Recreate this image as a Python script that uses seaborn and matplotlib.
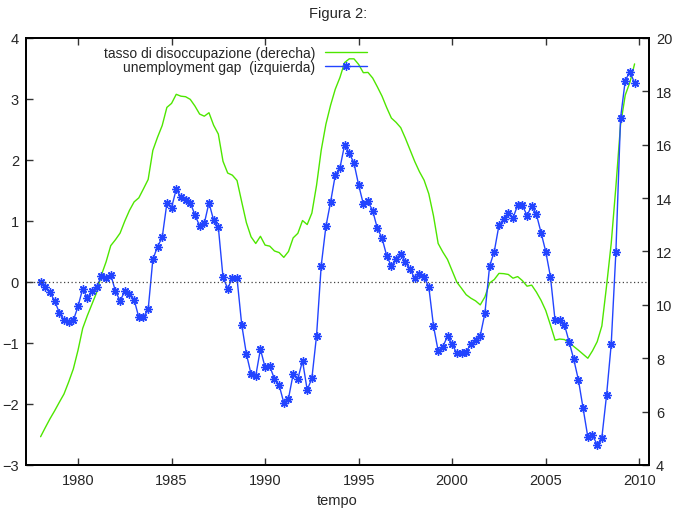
import numpy as np
import matplotlib
matplotlib.use("Agg")
import matplotlib.pyplot as plt
import seaborn as sns
import pandas as pd

sns.set_style("ticks")
plt.rcParams['font.family'] = ['Liberation Sans', 'DejaVu Sans']

# quarterly data, 1978Q1 - 2009Q4
start_year = 1978
# unemployment gap (left axis)
gap = [0.00, -0.08, -0.17, -0.31, -0.50, -0.63, -0.65, -0.63,
       -0.40, -0.11, -0.26, -0.15, -0.08, 0.10, 0.06, 0.12,
       -0.15, -0.31, -0.15, -0.20, -0.29, -0.58, -0.58, -0.45,
       0.37, 0.58, 0.73, 1.29, 1.22, 1.52, 1.39, 1.35,
       1.30, 1.10, 0.92, 0.96, 1.30, 1.01, 0.90, 0.08,
       -0.11, 0.07, 0.06, -0.70, -1.18, -1.51, -1.54, -1.10,
       -1.40, -1.38, -1.59, -1.69, -1.98, -1.91, -1.51, -1.59,
       -1.29, -1.77, -1.58, -0.88, 0.27, 0.91, 1.31, 1.75,
       1.87, 2.25, 2.11, 1.95, 1.59, 1.28, 1.32, 1.17,
       0.88, 0.72, 0.43, 0.26, 0.38, 0.46, 0.33, 0.21,
       0.06, 0.13, 0.08, -0.08, -0.72, -1.13, -1.06, -0.89,
       -1.02, -1.17, -1.17, -1.14, -1.02, -0.95, -0.88, -0.51,
       0.26, 0.50, 0.93, 1.03, 1.13, 1.05, 1.26, 1.26,
       1.09, 1.25, 1.11, 0.81, 0.50, 0.09, -0.63, -0.63,
       -0.70, -0.98, -1.27, -1.61, -2.07, -2.54, -2.51, -2.67,
       -2.55, -1.86, -1.02, 0.49, 2.69, 3.30, 3.45, 3.26]
# unemployment rate (right axis)
tasso = [5.06, 5.40, 5.73, 6.03, 6.35, 6.66, 7.11, 7.60,
         8.30, 9.12, 9.60, 10.03, 10.47, 11.12, 11.61, 12.22,
         12.44, 12.69, 13.14, 13.54, 13.86, 14.01, 14.35, 14.70,
         15.79, 16.28, 16.72, 17.40, 17.55, 17.89, 17.82, 17.80,
         17.70, 17.45, 17.15, 17.07, 17.20, 16.73, 16.40, 15.38,
         14.94, 14.86, 14.66, 13.86, 13.08, 12.55, 12.30, 12.57,
         12.24, 12.20, 12.02, 11.96, 11.78, 12.00, 12.51, 12.68,
         13.16, 13.01, 13.44, 14.48, 15.80, 16.77, 17.48, 18.08,
         18.52, 19.08, 19.22, 19.22, 19.01, 18.70, 18.71, 18.50,
         18.17, 17.82, 17.39, 17.00, 16.84, 16.64, 16.24, 15.81,
         15.37, 14.99, 14.67, 14.16, 13.34, 12.30, 11.98, 11.70,
         11.27, 10.85, 10.62, 10.38, 10.25, 10.15, 10.00, 10.30,
         10.82, 10.95, 11.18, 11.17, 11.14, 11.00, 11.06, 10.91,
         10.70, 10.74, 10.48, 10.17, 9.79, 9.25, 8.68, 8.72,
         8.70, 8.59, 8.44, 8.30, 8.15, 8.00, 8.28, 8.62,
         9.21, 10.70, 12.30, 14.43, 16.75, 17.86, 18.34, 19.03]
x_ticks = [1980, 1985, 1990, 1995, 2000, 2005, 2010]
y_ticks = [-3, -2, -1, 0, 1, 2, 3, 4]
y2_ticks = [4, 6, 8, 10, 12, 14, 16, 18, 20]

years = start_year + np.arange(len(gap)) / 4.0
df = pd.DataFrame({'tempo': years, 'gap': gap, 'tasso': tasso})

blue = '#2244ff'
green = '#4ee600'

fig = plt.figure(figsize=(6.77, 5.10), dpi=100)
ax = fig.add_axes([26/677, 1-466/510, 623/677, 427/510])
ax2 = ax.twinx()

sns.lineplot(data=df, x='tempo', y='tasso', ax=ax2, color=green, lw=1.0,
             label='tasso di disoccupazione (derecha)', legend=False)
sns.lineplot(data=df, x='tempo', y='gap', ax=ax, color=blue, lw=1.0,
             marker=(8, 2, 0), markersize=6, markeredgewidth=1.0,
             markeredgecolor=blue, label='unemployment gap  (izquierda)', legend=False)
ax.axhline(0, color='#444444', lw=0.9, dashes=(1, 2))

# blue on top of green
ax.set_zorder(ax2.get_zorder() + 1)
ax.patch.set_visible(False)

ax.set_xlim(1977.22, 2010.52)
ax.set_ylim(-3, 4)
ax2.set_ylim(4, 20)
ax.set_xticks(x_ticks)
ax.set_yticks(y_ticks)
ax2.set_yticks(y2_ticks)

ax.xaxis.set_ticks_position('both')
ax.tick_params(axis='both', direction='in', length=5, width=1, labelsize=10.5,
               color='#333333', pad=5)
ax.tick_params(axis='x', pad=6)
ax2.tick_params(axis='y', direction='in', length=5, width=1, labelsize=10.5,
                color='#333333', pad=5)
for a in (ax, ax2):
    for s in a.spines.values():
        s.set_visible(True)
        s.set_color('black')
        s.set_linewidth(1.3)

ax.set_xlabel('tempo', fontsize=10.5, labelpad=4)
ax.set_ylabel('')
ax2.set_ylabel('')

h1, l1 = ax2.get_legend_handles_labels()
h2, l2 = ax.get_legend_handles_labels()
ax.legend(h1 + h2, l1 + l2, loc='upper right', bbox_to_anchor=(0.563, 1.005),
          frameon=False, markerfirst=False, fontsize=10, handlelength=3.0,
          handletextpad=0.75, labelspacing=0.0, borderaxespad=0.3)

fig.text(338/677, 1-14/510, 'Figura 2:', ha='center', va='center', fontsize=10.5)

fig.savefig('out.png', dpi=100)
